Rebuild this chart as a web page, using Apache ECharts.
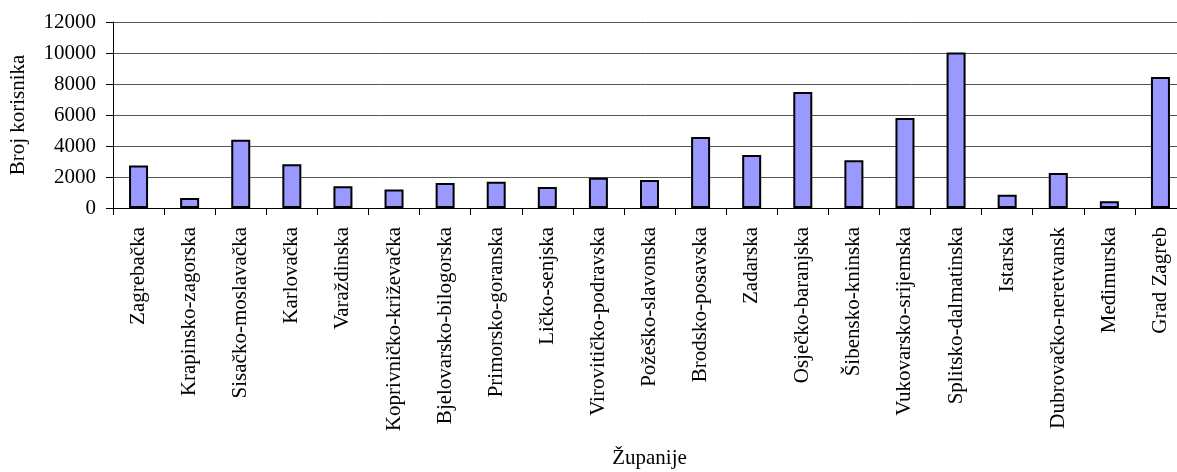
<!DOCTYPE html>
<html>
<head>
<meta charset="utf-8">
<script src="https://cdn.jsdelivr.net/npm/echarts@6/dist/echarts.min.js"></script>
<style>
  html, body { margin: 0; padding: 0; background: #fff; }
  #chart { width: 1177px; height: 472px; }
</style>
</head>
<body>
<div id="chart"></div>
<script>
  const zupanije = [
    'Zagrebačka', 'Krapinsko-zagorska', 'Sisačko-moslavačka', 'Karlovačka',
    'Varaždinska', 'Koprivničko-križevačka', 'Bjelovarsko-bilogorska',
    'Primorsko-goranska', 'Ličko-senjska', 'Virovitičko-podravska',
    'Požeško-slavonska', 'Brodsko-posavska', 'Zadarska', 'Osječko-baranjska',
    'Šibensko-kninska', 'Vukovarsko-srijemska', 'Splitsko-dalmatinska',
    'Istarska', 'Dubrovačko-neretvanska', 'Međimurska', 'Grad Zagreb'
  ];
  const korisnici = [
    2750, 650, 4400, 2830, 1400, 1200, 1620, 1700, 1360, 1950,
    1800, 4580, 3420, 7480, 3080, 5800, 10030, 850, 2260, 440, 8450
  ];
  const yTicks = { min: 0, max: 12000, interval: 2000 };

  const font = '"Liberation Serif", "Times New Roman", serif';

  const chart = echarts.init(document.getElementById('chart'));
  chart.setOption({
    animation: false,
    textStyle: { fontFamily: font },
    grid: { left: 113, top: 22, right: -9, bottom: 264, outerBoundsMode: 'none', containLabel: false },
    xAxis: {
      type: 'category',
      data: zupanije,
      name: 'Županije',
      nameLocation: 'middle',
      nameGap: 240,
      nameTextStyle: { fontFamily: font, fontSize: 21, color: '#000' },
      axisLine: { lineStyle: { color: '#000', width: 1 } },
      axisTick: { show: true, length: 7, lineStyle: { color: '#000' } },
      axisLabel: {
        rotate: 90,
        interval: 0,
        margin: 19,
        fontFamily: font,
        fontSize: 21,
        color: '#000',
        width: 208,
        overflow: 'truncate',
        ellipsis: ''
      }
    },
    yAxis: {
      type: 'value',
      min: yTicks.min,
      max: yTicks.max,
      interval: yTicks.interval,
      name: 'Broj korisnika',
      nameLocation: 'middle',
      nameGap: 84,
      nameTextStyle: { fontFamily: font, fontSize: 21, color: '#000' },
      axisLine: { show: true, lineStyle: { color: '#000', width: 1 } },
      axisTick: { show: true, length: 7, lineStyle: { color: '#000' } },
      axisLabel: {
        margin: 17, fontFamily: font, fontSize: 21, color: '#000',
        formatter: (v) => String(v)
      },
      splitLine: { lineStyle: { color: '#555', width: 1 } }
    },
    series: [{
      type: 'bar',
      data: korisnici,
      barWidth: 19,
      itemStyle: { color: '#9999FF', borderColor: '#000', borderWidth: 2 }
    }]
  });
</script>
</body>
</html>
